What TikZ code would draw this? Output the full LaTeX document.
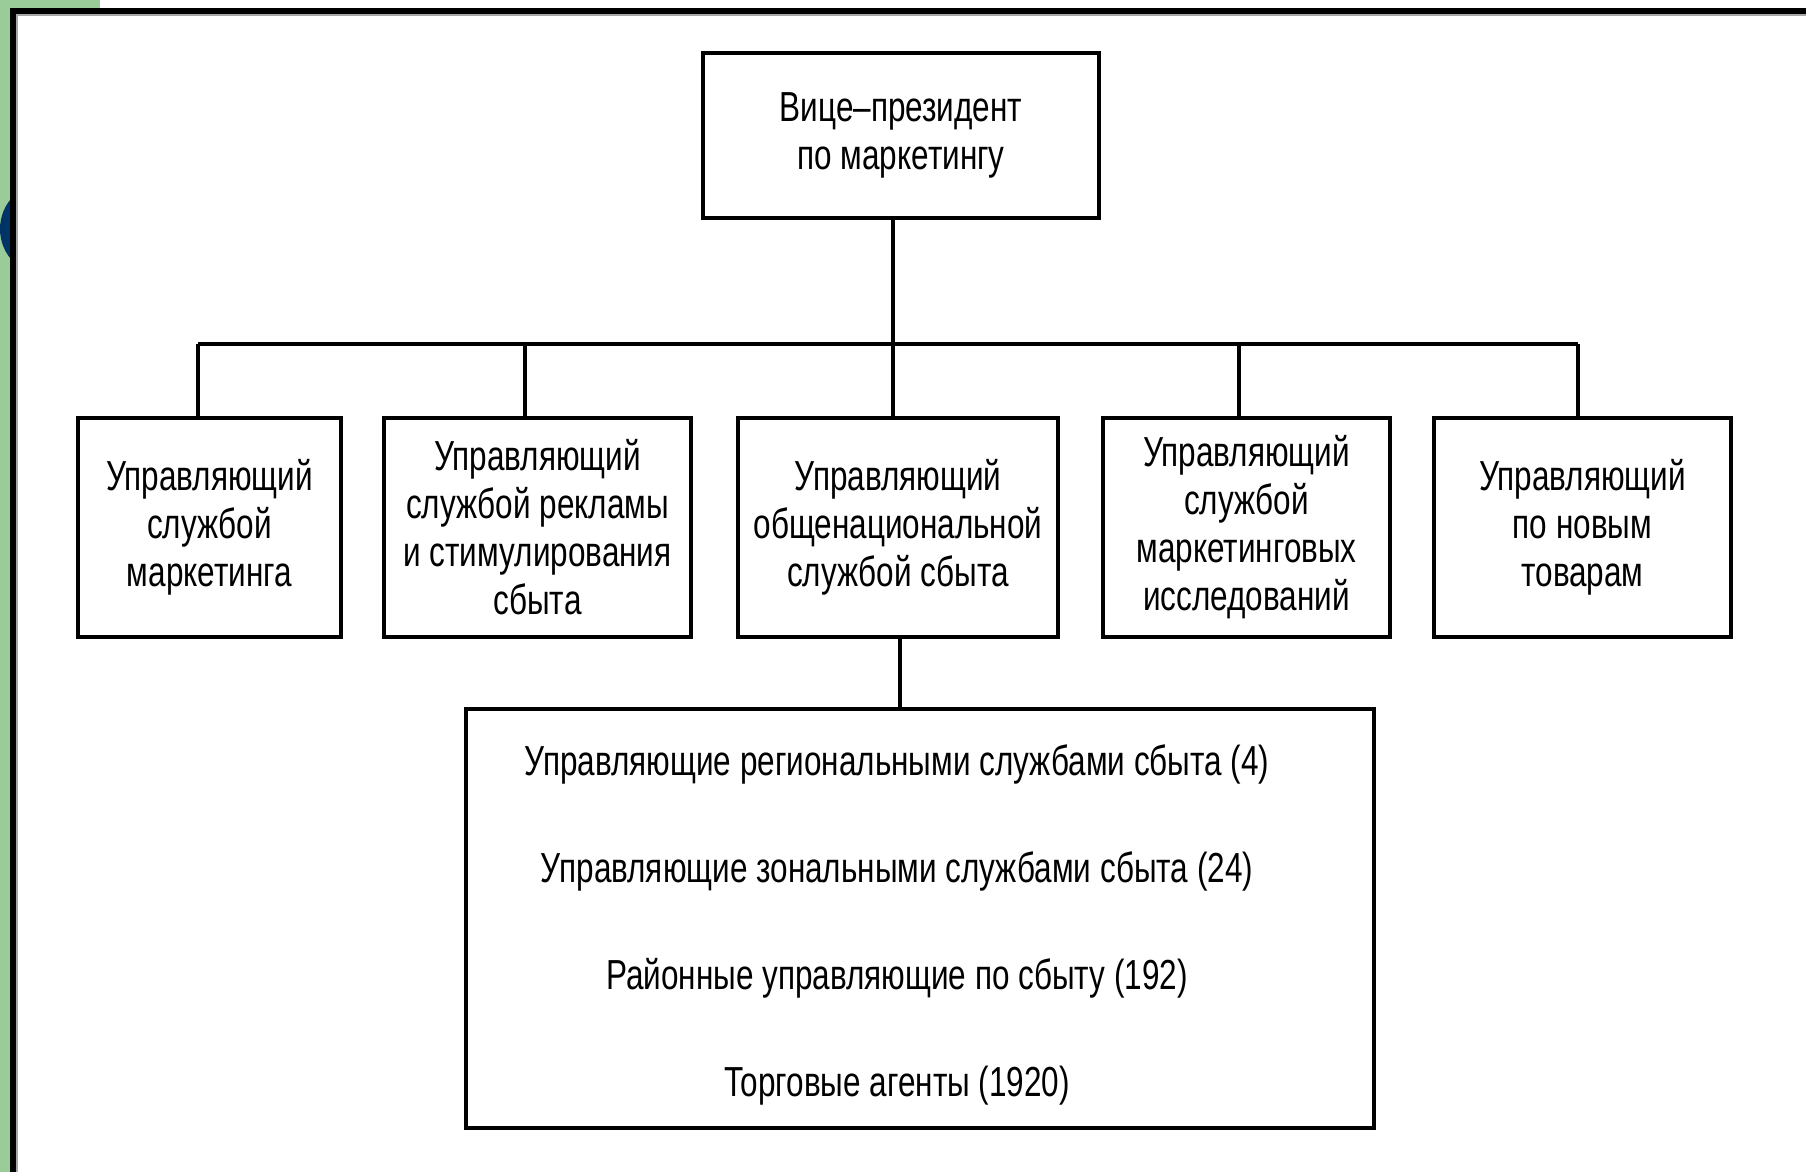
\documentclass[tikz,border=0pt]{standalone}
\usepackage{fontspec}
\setmainfont{Liberation Sans}[FakeStretch=0.75]
\definecolor{framegreen}{RGB}{153,204,153}
\definecolor{navy}{RGB}{0,51,102}
\begin{document}
\begin{tikzpicture}[x=0.5pt,y=-0.5pt,
  box/.style 2 args={draw=black, line width=2.2pt, fill=white, inner sep=0pt,
    minimum width=#1*0.5pt, minimum height=#2*0.5pt, align=center,
    font=\fontsize{21}{24}\selectfont},
  conn/.style={draw=black, line width=1.6pt},
  line/.style={inner sep=0pt, anchor=base, font=\fontsize{21}{24}\selectfont}]
% page and frame
\useasboundingbox (0,0) rectangle (1806,1172);
\fill[white] (0,0) rectangle (1806,1172);
\fill[framegreen] (0,0) rectangle (11,1172);
\fill[framegreen] (0,0) rectangle (100,8);
\begin{scope}
  \clip (0,0) rectangle (11,1172);
  \fill[navy] (47,229) circle[radius=47];
\end{scope}
\draw[black!35, line width=1pt] (17,1172) -- (17,15) -- (1806,15);
\draw[black, line width=2.6pt] (13,1172) -- (13,11) -- (1806,11);

% boxes
\node[box={396}{165}] (vp) at (901,135.5) {Вице–президент\\по маркетингу};
\node[box={263}{219}] (b1) at (209.5,527.5) {Управляющий\\службой\\маркетинга};
\node[box={307}{219}] (b2) at (537.5,527.5) {Управляющий\\службой рекламы\\и стимулирования\\сбыта};
\node[box={320}{219}] (b3) at (898,527.5) {Управляющий\\общенациональной\\службой сбыта};
\node[box={287}{219}] (b4) at (1246.5,527.5) {Управляющий\\службой\\маркетинговых\\исследований};
\node[box={297}{219}] (b5) at (1582.5,527.5) {Управляющий\\по новым\\товарам};
\node[box={908}{419}] (sales) at (920,918.5) {};

\node[line] (s1) at (897,775) {Управляющие региональными службами сбыта (4)};
\node[line] (s2) at (897,882) {Управляющие зональными службами сбыта (24)};
\node[line] (s3) at (897,989) {Районные управляющие по сбыту (192)};
\node[line] (s4) at (897,1096) {Торговые агенты (1920)};

% connectors
\coordinate (j1) at (198,344);
\coordinate (j2) at (525,344);
\coordinate (j3) at (893,344);
\coordinate (j4) at (1239,344);
\coordinate (j5) at (1578,344);
\coordinate (jb) at (900,673);
\draw[conn] (j1) -- (j5);
\draw[conn] (vp.south -| j3) -- (j3);
\draw[conn] (j1) -- (j1 |- b1.north);
\draw[conn] (j2) -- (j2 |- b2.north);
\draw[conn] (j3) -- (j3 |- b3.north);
\draw[conn] (j4) -- (j4 |- b4.north);
\draw[conn] (j5) -- (j5 |- b5.north);
\draw[conn] (b3.south -| jb) -- (jb |- sales.north);
\end{tikzpicture}
\end{document}
